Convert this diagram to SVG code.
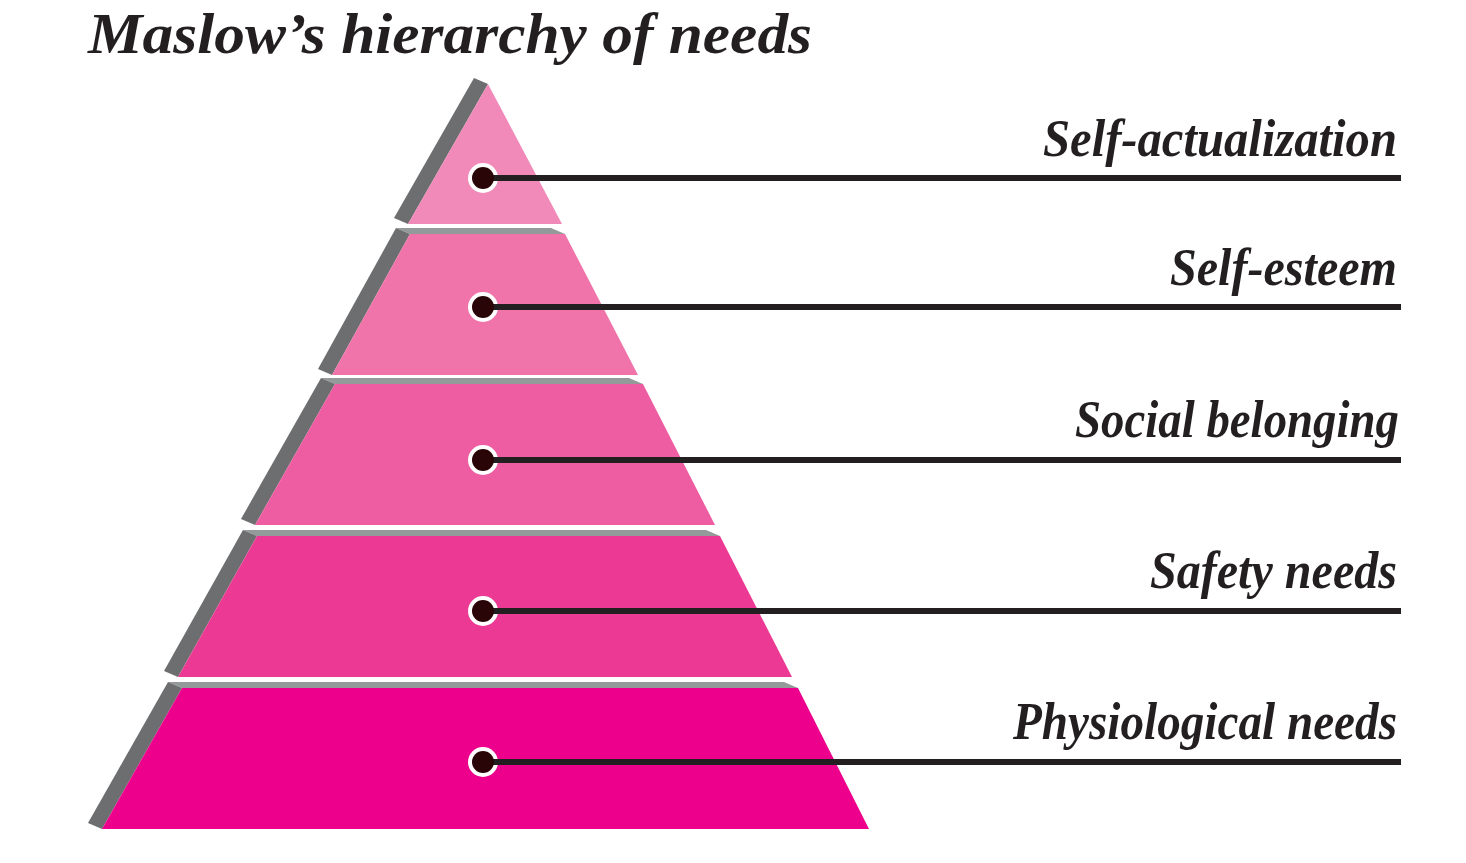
<svg xmlns="http://www.w3.org/2000/svg" width="1466" height="863" viewBox="0 0 1466 863">
  <defs>
    <style>
      .side { fill: #6d6e6f; }
      .top { fill: #949a99; }
      .ring { fill: #ffffff; }
      .label { font-family: "Liberation Serif", "Times New Roman", serif; font-weight: bold; font-style: italic; font-size: 52px; fill: #231f20; text-anchor: end; }
      .title { font-family: "Liberation Serif", "Times New Roman", serif; font-weight: bold; font-style: italic; font-size: 58px; fill: #231f20; }
      .conn { stroke: #231f20; stroke-width: 6; fill: none; marker-start: url(#dot); }
    </style>
    <marker id="dot" markerUnits="userSpaceOnUse" markerWidth="24" markerHeight="24" refX="12" refY="12" orient="0">
      <circle cx="12" cy="12" r="11" fill="#2a0508"/>
    </marker>
  </defs>
  <rect width="1466" height="863" fill="#ffffff"/>

  <text class="title" x="88" y="53" textLength="724" lengthAdjust="spacingAndGlyphs">Maslow’s hierarchy of needs</text>

  <g id="tier-physiological">
    <polygon class="top" points="182,688 798,688 784,682 168,682"/>
    <polygon class="side" points="182,688 102,829 88,823 168,682"/>
    <polygon fill="#ec008c" points="182,688 798,688 869,829 102,829"/>
    <circle class="ring" cx="483" cy="762" r="15"/>
    <text class="label" x="1397" y="739" textLength="384" lengthAdjust="spacingAndGlyphs">Physiological needs</text>
  </g>

  <g id="tier-safety">
    <polygon class="top" points="257,536 720,536 706,530 243,530"/>
    <polygon class="side" points="257,536 178,677 164,671 243,530"/>
    <polygon fill="#ec3a94" points="257,536 720,536 792,677 178,677"/>
    <circle class="ring" cx="483" cy="611" r="15"/>
    <text class="label" x="1397" y="588" textLength="247" lengthAdjust="spacingAndGlyphs">Safety needs</text>
  </g>

  <g id="tier-social">
    <polygon class="top" points="335,384 643,384 629,378 321,378"/>
    <polygon class="side" points="335,384 255,525 241,519 321,378"/>
    <polygon fill="#ee5ca1" points="335,384 643,384 715,525 255,525"/>
    <circle class="ring" cx="483" cy="460" r="15"/>
    <text class="label" x="1399" y="437" textLength="324" lengthAdjust="spacingAndGlyphs">Social belonging</text>
  </g>

  <g id="tier-esteem">
    <polygon class="top" points="410,234 565,234 551,228 396,228"/>
    <polygon class="side" points="410,234 332,375 318,369 396,228"/>
    <polygon fill="#f074aa" points="410,234 565,234 638,375 332,375"/>
    <circle class="ring" cx="483" cy="307" r="15"/>
    <text class="label" x="1397" y="285" textLength="227" lengthAdjust="spacingAndGlyphs">Self-esteem</text>
  </g>

  <g id="tier-actualization">
    <polygon class="side" points="488,84 408,224 394,218 474,78"/>
    <polygon fill="#f18ab8" points="488,84 562,224 408,224"/>
    <circle class="ring" cx="483" cy="178" r="15"/>
    <text class="label" x="1397" y="156" textLength="354" lengthAdjust="spacingAndGlyphs">Self-actualization</text>
  </g>

  <g id="connectors">
    <line class="conn" x1="483" y1="178" x2="1401" y2="178"/>
    <line class="conn" x1="483" y1="307" x2="1401" y2="307"/>
    <line class="conn" x1="483" y1="460" x2="1401" y2="460"/>
    <line class="conn" x1="483" y1="611" x2="1401" y2="611"/>
    <line class="conn" x1="483" y1="762" x2="1401" y2="762"/>
  </g>
</svg>
